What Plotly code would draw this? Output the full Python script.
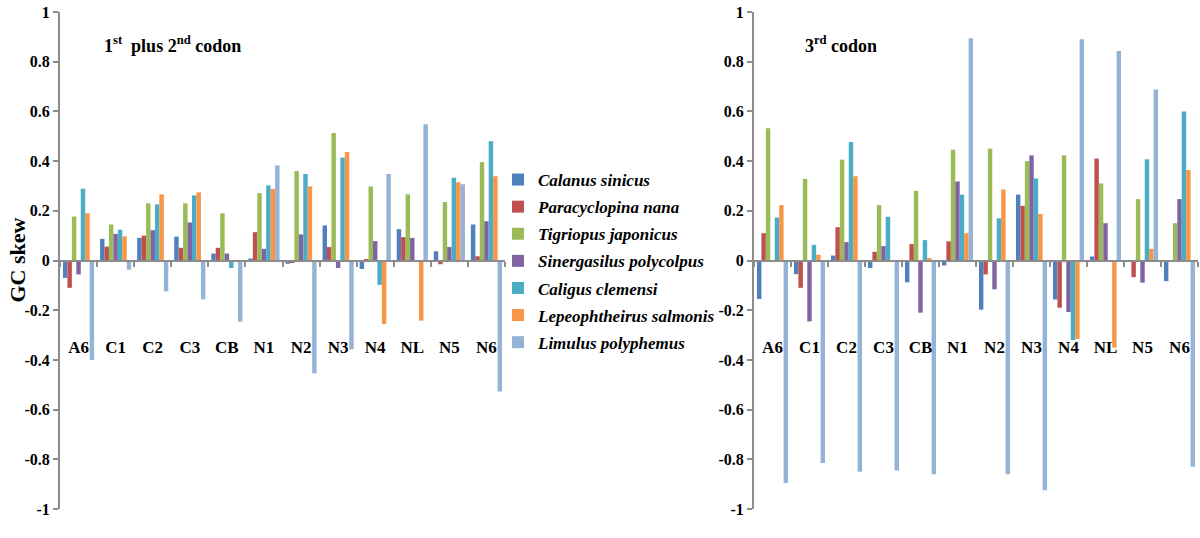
import plotly.graph_objects as go

categories = ["A6", "C1", "C2", "C3", "CB", "N1", "N2", "N3", "N4", "NL", "N5", "N6"]
species = ["Calanus sinicus", "Paracyclopina nana", "Tigriopus japonicus",
           "Sinergasilus polycolpus", "Caligus clemensi", "Lepeophtheirus salmonis",
           "Limulus polyphemus"]
colors = ["#4F81BD", "#C0504D", "#9BBB59", "#8064A2", "#4BACC6", "#F79646", "#95B3D7"]

# 1st plus 2nd codon GC skew
calanus_12 = [-0.07, 0.087, 0.091, 0.096, 0.028, 0.008, -0.013, 0.141, -0.034, 0.126, 0.037, 0.145]
paracyclopina_12 = [-0.11, 0.056, 0.10, 0.051, 0.051, 0.114, -0.010, 0.054, 0.005, 0.094, -0.015, 0.017]
tigriopus_12 = [0.177, 0.145, 0.23, 0.23, 0.19, 0.271, 0.36, 0.513, 0.298, 0.266, 0.235, 0.396]
sinergasilus_12 = [-0.056, 0.107, 0.122, 0.153, 0.028, 0.047, 0.105, -0.03, 0.078, 0.091, 0.054, 0.158]
caligus_12 = [0.289, 0.124, 0.226, 0.262, -0.03, 0.302, 0.348, 0.414, -0.098, 0.0, 0.333, 0.48]
lepeophtheirus_12 = [0.19, 0.097, 0.266, 0.274, 0.0, 0.288, 0.298, 0.437, -0.255, -0.242, 0.315, 0.339]
limulus_12 = [-0.40, -0.037, -0.124, -0.156, -0.246, 0.383, -0.454, -0.357, 0.348, 0.548, 0.307, -0.527]

# 3rd codon GC skew
calanus_3 = [-0.155, -0.055, 0.02, -0.03, -0.088, -0.02, -0.198, 0.265, -0.157, 0.016, 0.0, -0.083]
paracyclopina_3 = [0.11, -0.11, 0.134, 0.035, 0.066, 0.077, -0.056, 0.22, -0.19, 0.41, -0.067, 0.0]
tigriopus_3 = [0.532, 0.328, 0.406, 0.223, 0.28, 0.446, 0.45, 0.40, 0.423, 0.31, 0.247, 0.15]
sinergasilus_3 = [0.0, -0.245, 0.074, 0.058, -0.21, 0.318, -0.116, 0.423, -0.207, 0.15, -0.089, 0.247]
caligus_3 = [0.173, 0.063, 0.477, 0.176, 0.082, 0.265, 0.17, 0.33, -0.32, 0.0, 0.407, 0.60]
lepeophtheirus_3 = [0.223, 0.023, 0.339, 0.0, 0.01, 0.11, 0.286, 0.187, -0.316, -0.35, 0.047, 0.364]
limulus_3 = [-0.895, -0.815, -0.85, -0.845, -0.86, 0.894, -0.86, -0.925, 0.89, 0.843, 0.688, -0.83]

series_12 = [calanus_12, paracyclopina_12, tigriopus_12, sinergasilus_12,
             caligus_12, lepeophtheirus_12, limulus_12]
series_3 = [calanus_3, paracyclopina_3, tigriopus_3, sinergasilus_3,
            caligus_3, lepeophtheirus_3, limulus_3]

ytick_vals = [1, 0.8, 0.6, 0.4, 0.2, 0, -0.2, -0.4, -0.6, -0.8, -1]
ytick_text = ["1", "0.8", "0.6", "0.4", "0.2", "0", "-0.2", "-0.4", "-0.6", "-0.8", "-1"]

SERIF = "Liberation Serif"
AXIS_GRAY = "#8c8c8c"

fig = go.Figure()
for name, col, vals in zip(species, colors, series_12):
    fig.add_trace(go.Bar(x=categories, y=vals, name=name, marker_color=col,
                         marker_line_width=0, xaxis="x", yaxis="y", showlegend=True,
                         legendgroup=name))
for name, col, vals in zip(species, colors, series_3):
    fig.add_trace(go.Bar(x=categories, y=vals, name=name, marker_color=col,
                         marker_line_width=0, xaxis="x2", yaxis="y2", showlegend=False,
                         legendgroup=name))

xcommon = dict(
    type="category", range=[-0.5, 11.5], anchor="free", position=0.5,
    showline=True, linecolor=AXIS_GRAY, linewidth=2,
    ticks="outside", tickson="boundaries", ticklen=5, tickcolor=AXIS_GRAY, tickwidth=1.5,
    tickfont=dict(family=SERIF, size=17, color="black", weight="bold"),
    ticklabelstandoff=71, showgrid=False, zeroline=False, automargin=False,
)
ycommon = dict(
    range=[-1, 1], domain=[0, 1], tickvals=ytick_vals, ticktext=ytick_text,
    showline=True, linecolor=AXIS_GRAY, linewidth=2,
    ticks="outside", ticklen=5, tickcolor=AXIS_GRAY, tickwidth=1.5,
    tickfont=dict(family=SERIF, size=16, color="black", weight="bold"),
    showgrid=False, zeroline=False, automargin=False,
)

fig.update_layout(
    template="none",
    width=1200, height=538,
    margin=dict(l=0, r=0, t=12, b=29),
    paper_bgcolor="white", plot_bgcolor="rgba(0,0,0,0)",
    barmode="group", bargap=0.16, bargroupgap=0,
    xaxis=dict(domain=[60 / 1200, 505 / 1200], **xcommon),
    xaxis2=dict(domain=[754 / 1200, 1198 / 1200], **xcommon),
    yaxis=dict(anchor="x", **ycommon),
    yaxis2=dict(anchor="x2", **ycommon),
    legend=dict(
        x=498 / 1200, y=(509 - 162) / 497, xanchor="left", yanchor="top",
        font=dict(family=SERIF, size=17, color="black", weight="bold", style="italic"),
        bgcolor="rgba(0,0,0,0)", itemwidth=30, tracegroupgap=2,
    ),
    showlegend=True,
    annotations=[
        dict(text="1<sup>st</sup>  plus 2<sup>nd</sup> codon", x=102 / 1200, y=(509 - 45) / 497,
             xref="paper", yref="paper", xanchor="left", yanchor="middle", showarrow=False,
             font=dict(family=SERIF, size=18, color="black", weight="bold")),
        dict(text="3<sup>rd</sup> codon", x=803 / 1200, y=(509 - 45) / 497,
             xref="paper", yref="paper", xanchor="left", yanchor="middle", showarrow=False,
             font=dict(family=SERIF, size=18, color="black", weight="bold")),
        dict(text="GC skew", x=17 / 1200, y=0.5, xref="paper", yref="paper",
             xanchor="center", yanchor="middle", textangle=-90, showarrow=False,
             font=dict(family=SERIF, size=22, color="black", weight="bold")),
    ],
)

fig.write_html("out.html", config={"displayModeBar": False},
               post_script="document.body.style.margin='0px';")
